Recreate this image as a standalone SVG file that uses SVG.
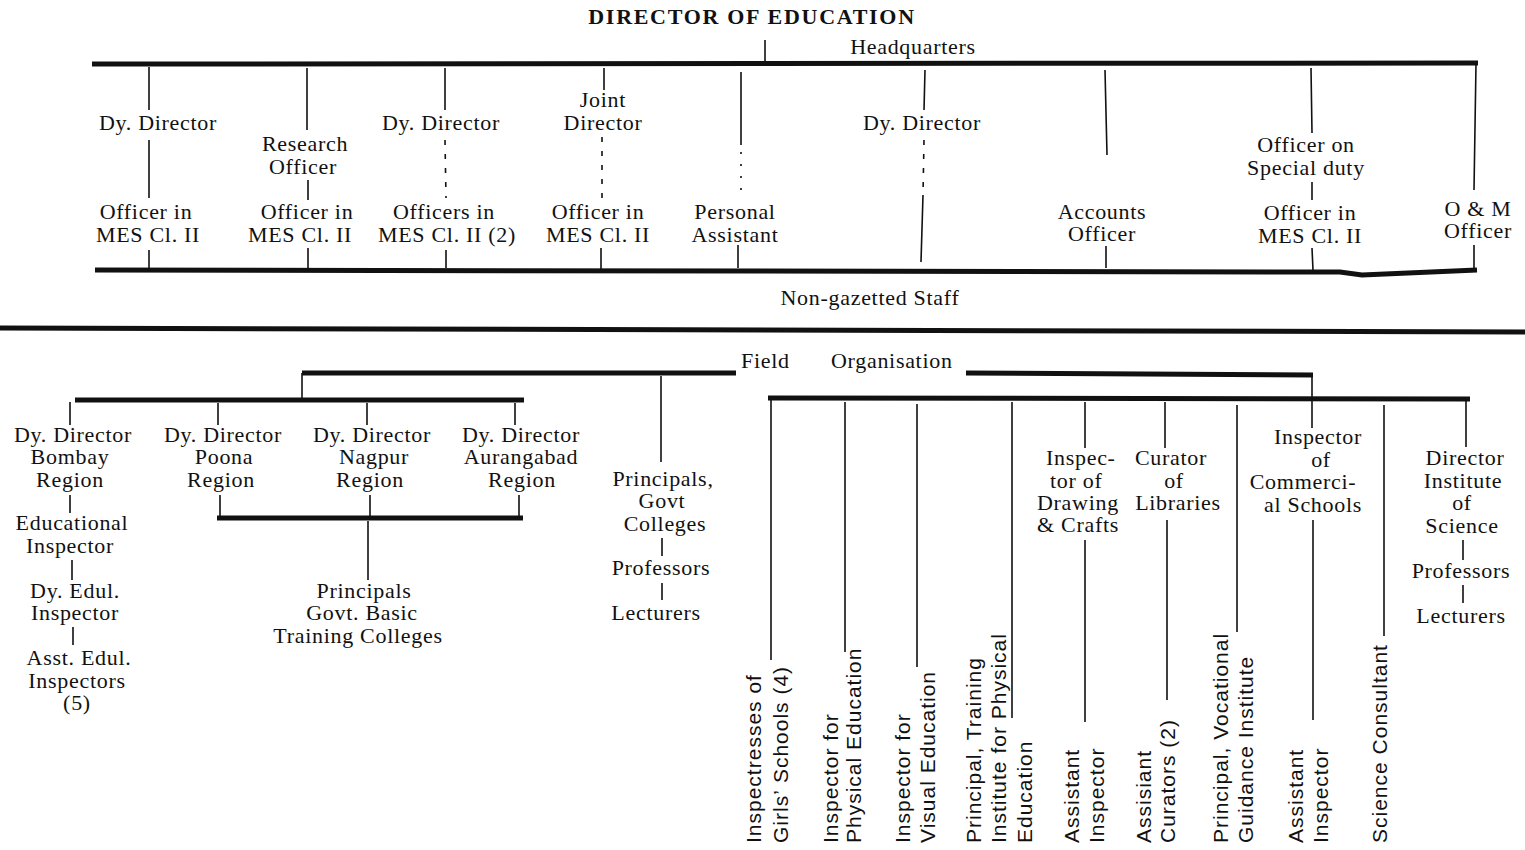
<svg xmlns="http://www.w3.org/2000/svg" width="1525" height="850" viewBox="0 0 1525 850">
<style>
.t{font-family:"Liberation Serif","Times New Roman",serif;font-size:22px;letter-spacing:0.7px;fill:#111;text-anchor:middle}
.ts{text-anchor:start}
.title{font-family:"Liberation Serif","Times New Roman",serif;font-size:22px;font-weight:bold;letter-spacing:1.7px;fill:#111;text-anchor:middle}
.r{font-family:"Liberation Sans",Arial,sans-serif;font-size:21px;letter-spacing:1px;fill:#111}
.k{stroke:#111;stroke-width:5;fill:none;stroke-linecap:butt}
.n{stroke:#111;stroke-width:1.6;fill:none}
.d{stroke:#111;stroke-width:1.6;fill:none;stroke-dasharray:5 9}
.o{stroke:#111;stroke-width:1.6;fill:none;stroke-dasharray:2 10}
</style>
<rect width="1525" height="850" fill="#fff"/>
<g id="connectors">
<path class="n" d="M765,40 L765,64"/>
<path class="k" d="M92,64 L1478,63"/>
<path class="n" d="M149,67 L149,110 M149,140 L149,198 M149,250 L149,270"/>
<path class="n" d="M307,68 L307,130 M308,180 L308,200 M308,248 L308,270"/>
<path class="n" d="M445,68 L445,110 M446,250 L446,268"/>
<path class="d" d="M445,140 L446,198"/>
<path class="n" d="M604,68 L604,90 M601,248 L601,270"/>
<path class="d" d="M602,137 L602,198"/>
<path class="n" d="M741,72 L741,145 M738,245 L738,268"/>
<path class="o" d="M741,152 L741,195"/>
<path class="n" d="M925,70 L924,110 M923,195 L921,262"/>
<path class="d" d="M924,140 L923,195"/>
<path class="n" d="M1105,70 L1107,155 M1106,246 L1106,268"/>
<path class="n" d="M1311,68 L1312,133 M1312,182 L1312,200 M1312,248 L1313,270"/>
<path class="n" d="M1476,64 L1474,190 M1474,245 L1474,270"/>
<path class="k" d="M95,270 L1340,272 L1362,275 L1477,270"/>
<path class="k" d="M0,328 L1525,332"/>
<path class="k" d="M302,373 L736,373 M966,373 L1313,375"/>
<path class="n" d="M302,373 L302,400"/>
<path class="k" d="M75,400 L524,400"/>
<path class="n" d="M70,402 L70,425 M218,403 L218,425 M367,403 L367,425 M515,403 L515,425"/>
<path class="n" d="M70,495 L70,513 M72,560 L72,580 M73,627 L73,645"/>
<path class="n" d="M220,495 L220,517 M370,495 L370,517 M519,495 L519,517"/>
<path class="k" d="M217,518 L523,518"/>
<path class="n" d="M368,521 L368,580"/>
<path class="n" d="M661,376 L661,462 M662,538 L662,556 M662,583 L662,600"/>
<path class="k" d="M768,398 L1470,399"/>
<path class="n" d="M1312,375 L1312,428"/>
<path class="n" d="M771,400 L771,660 M845,402 L845,652 M917,404 L917,667 M1012,402 L1012,718"/>
<path class="n" d="M1085,402 L1085,448 M1085,540 L1085,722"/>
<path class="n" d="M1165,402 L1165,448 M1167,520 L1167,700"/>
<path class="n" d="M1237,405 L1237,632"/>
<path class="n" d="M1313,520 L1313,720"/>
<path class="n" d="M1384,405 L1384,636"/>
<path class="n" d="M1466,400 L1466,447 M1463,540 L1463,560 M1463,585 L1463,603"/>
</g>
<g id="director"><text class="title" x="752" y="24">DIRECTOR OF EDUCATION</text></g>
<g id="hq-label"><text class="t" x="913" y="54">Headquarters</text></g>
<g id="hq-dy1"><text class="t" x="158" y="130">Dy. Director</text></g>
<g id="hq-off1"><text class="t" x="146" y="219">Officer in</text><text class="t" x="148" y="242">MES Cl. II</text></g>
<g id="hq-research"><text class="t" x="305" y="151">Research</text><text class="t" x="303" y="174">Officer</text></g>
<g id="hq-off2"><text class="t" x="307" y="219">Officer in</text><text class="t" x="300" y="242">MES Cl. II</text></g>
<g id="hq-dy2"><text class="t" x="441" y="130">Dy. Director</text></g>
<g id="hq-off3"><text class="t" x="444" y="219">Officers in</text><text class="t" x="447" y="242">MES Cl. II (2)</text></g>
<g id="hq-joint"><text class="t" x="603" y="107">Joint</text><text class="t" x="603" y="130">Director</text></g>
<g id="hq-off4"><text class="t" x="598" y="219">Officer in</text><text class="t" x="598" y="242">MES Cl. II</text></g>
<g id="hq-pa"><text class="t" x="735" y="219">Personal</text><text class="t" x="735" y="242">Assistant</text></g>
<g id="hq-dy3"><text class="t" x="922" y="130">Dy. Director</text></g>
<g id="hq-accounts"><text class="t" x="1102" y="219">Accounts</text><text class="t" x="1102" y="241">Officer</text></g>
<g id="hq-osd"><text class="t" x="1306" y="152">Officer  on</text><text class="t" x="1306" y="175">Special duty</text></g>
<g id="hq-off5"><text class="t" x="1310" y="220">Officer in</text><text class="t" x="1310" y="243">MES Cl. II</text></g>
<g id="hq-om"><text class="t" x="1478" y="216">O &amp; M</text><text class="t" x="1478" y="238">Officer</text></g>
<g id="non-gazetted"><text class="t" x="870" y="305">Non-gazetted Staff</text></g>
<g id="field-label"><text class="t ts" x="741" y="368">Field</text><text class="t ts" x="831" y="368">Organisation</text></g>
<g id="dy-bombay"><text class="t" x="73" y="442">Dy. Director</text><text class="t" x="70" y="464">Bombay</text><text class="t" x="70" y="487">Region</text></g>
<g id="edu-insp"><text class="t" x="72" y="530">Educational</text><text class="t" x="70" y="553">Inspector</text></g>
<g id="dy-edul"><text class="t" x="75" y="598">Dy. Edul.</text><text class="t" x="75" y="620">Inspector</text></g>
<g id="asst-edul"><text class="t" x="79" y="665">Asst. Edul.</text><text class="t" x="77" y="688">Inspectors</text><text class="t" x="77" y="710">(5)</text></g>
<g id="dy-poona"><text class="t" x="223" y="442">Dy. Director</text><text class="t" x="224" y="464">Poona</text><text class="t" x="221" y="487">Region</text></g>
<g id="dy-nagpur"><text class="t" x="372" y="442">Dy. Director</text><text class="t" x="374" y="464">Nagpur</text><text class="t" x="370" y="487">Region</text></g>
<g id="dy-aurangabad"><text class="t" x="521" y="442">Dy. Director</text><text class="t" x="521" y="464">Aurangabad</text><text class="t" x="522" y="487">Region</text></g>
<g id="basic-training"><text class="t" x="364" y="598">Principals</text><text class="t" x="362" y="620">Govt. Basic</text><text class="t" x="358" y="643">Training Colleges</text></g>
<g id="govt-colleges"><text class="t" x="663" y="486">Principals,</text><text class="t" x="662" y="508">Govt</text><text class="t" x="665" y="531">Colleges</text></g>
<g id="gc-professors"><text class="t" x="661" y="575">Professors</text></g>
<g id="gc-lecturers"><text class="t" x="656" y="620">Lecturers</text></g>
<g id="insp-girls"><text class="r" transform="translate(761,843) rotate(-90)">Inspectresses  of</text><text class="r" transform="translate(788,843) rotate(-90)">Girls’ Schools (4)</text></g>
<g id="insp-phys"><text class="r" transform="translate(838,843) rotate(-90)">Inspector for</text><text class="r" transform="translate(861,843) rotate(-90)">Physical Education</text></g>
<g id="insp-visual"><text class="r" transform="translate(910,843) rotate(-90)">Inspector for</text><text class="r" transform="translate(935,843) rotate(-90)">Visual Education</text></g>
<g id="prin-phys"><text class="r" transform="translate(981,843) rotate(-90)">Principal, Training</text><text class="r" transform="translate(1006,843) rotate(-90)">Institute for Physical</text><text class="r" transform="translate(1032,843) rotate(-90)">Education</text></g>
<g id="insp-drawing"><text class="t ts" x="1046" y="465">Inspec-</text><text class="t ts" x="1050" y="488">tor of</text><text class="t ts" x="1037" y="510">Drawing</text><text class="t ts" x="1037" y="532">&amp; Crafts</text></g>
<g id="asst-insp-drawing"><text class="r" transform="translate(1079,843) rotate(-90)">Assistant</text><text class="r" transform="translate(1104,843) rotate(-90)">Inspector</text></g>
<g id="curator"><text class="t" x="1171" y="465">Curator</text><text class="t" x="1174" y="488">of</text><text class="t" x="1178" y="510">Libraries</text></g>
<g id="asst-curators"><text class="r" transform="translate(1151,843) rotate(-90)">Assisiant</text><text class="r" transform="translate(1175,843) rotate(-90)">Curators  (2)</text></g>
<g id="prin-vocational"><text class="r" transform="translate(1228,843) rotate(-90)">Principal,  Vocational</text><text class="r" transform="translate(1253,843) rotate(-90)">Guidance Institute</text></g>
<g id="insp-commercial"><text class="t" x="1318" y="444">Inspector</text><text class="t" x="1321" y="467">of</text><text class="t" x="1303" y="489">Commerci-</text><text class="t" x="1313" y="512">al Schools</text></g>
<g id="asst-insp-commercial"><text class="r" transform="translate(1303,843) rotate(-90)">Assistant</text><text class="r" transform="translate(1328,843) rotate(-90)">Inspector</text></g>
<g id="science-consultant"><text class="r" transform="translate(1387,843) rotate(-90)">Science  Consultant</text></g>
<g id="dir-science"><text class="t" x="1465" y="465">Director</text><text class="t" x="1463" y="488">Institute</text><text class="t" x="1462" y="510">of</text><text class="t" x="1462" y="533">Science</text></g>
<g id="is-professors"><text class="t" x="1461" y="578">Professors</text></g>
<g id="is-lecturers"><text class="t" x="1461" y="623">Lecturers</text></g>
</svg>
